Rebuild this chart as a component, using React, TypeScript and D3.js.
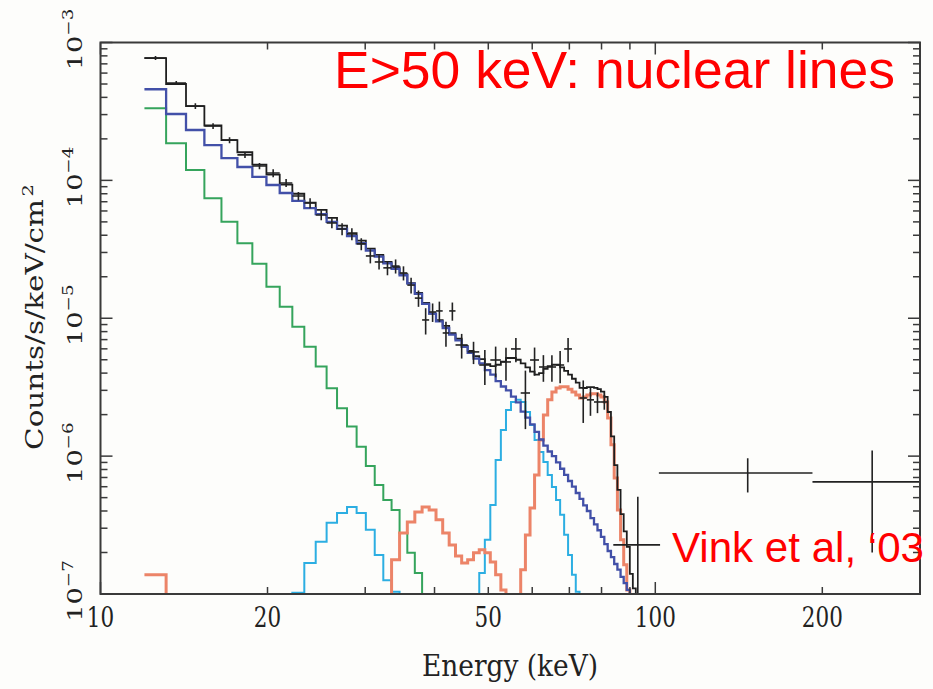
import React from 'react';
import * as d3 from 'd3';

const W = 933;
const H = 689;

// Channel boundaries of the spectrum (keV)
const binEdges = [
  12.0, 13.13, 14.26, 15.39, 16.52, 17.65, 18.78, 19.91, 21.04, 22.17,
  23.3, 24.43, 25.56, 26.69, 27.82, 28.95, 30.08, 31.21, 32.34, 33.47,
  34.6, 35.73, 36.86, 37.99, 39.12, 40.25, 41.38, 42.51, 43.64, 44.77,
  45.9, 47.03, 48.16, 49.29, 50.42, 51.55, 52.68, 53.81, 54.94, 56.07,
  57.2, 58.33, 59.46, 60.59, 61.72, 62.85, 63.98, 65.11, 66.24, 67.37,
  68.5, 69.63, 70.76, 71.89, 73.02, 74.15, 75.28, 76.41, 77.54, 78.67,
  79.8, 80.93, 82.06, 83.19, 84.32, 85.45, 86.58, 87.71, 88.84, 89.97,
  91.1, 92.23, 93.36,
];

// Total model (counts/s/keV/cm^2 per channel)
const totalModel = [
  7.7e-4, 5.0e-4, 3.45e-4, 2.5e-4, 1.96e-4, 1.6e-4, 1.3e-4, 1.1e-4, 9.3e-5, 8.0e-5,
  6.9e-5, 6.1e-5, 5.35e-5, 4.7e-5, 4.15e-5, 3.65e-5, 3.2e-5, 2.88e-5, 2.56e-5, 2.35e-5,
  2.09e-5, 1.8e-5, 1.53e-5, 1.29e-5, 1.08e-5, 9.7e-6, 8.8e-6, 7.8e-6, 7.1e-6, 6.3e-6,
  5.8e-6, 5.3e-6, 5.05e-6, 4.65e-6, 4.5e-6, 4.6e-6, 4.85e-6, 5.15e-6, 5.15e-6, 5.0e-6,
  4.7e-6, 4.4e-6, 4.1e-6, 3.9e-6, 4.0e-6, 4.3e-6, 4.5e-6, 4.6e-6, 4.6e-6, 4.4e-6,
  4.15e-6, 3.9e-6, 3.64e-6, 3.41e-6, 3.13e-6, 3.12e-6, 3.17e-6, 3.17e-6, 3.13e-6, 3.06e-6,
  2.94e-6, 2.69e-6, 2.09e-6, 1.39e-6, 8.6e-7, 5.7e-7, 3.8e-7, 2.85e-7, 2.2e-7, 1.4e-7,
  1.1e-7, 0,
];

// Hard continuum component
const continuumModel = [
  4.58e-4, 3.03e-4, 2.32e-4, 1.8e-4, 1.45e-4, 1.25e-4, 1.06e-4, 9.26e-5, 8.1e-5, 7.09e-5,
  6.3e-5, 5.7e-5, 5.0e-5, 4.45e-5, 3.95e-5, 3.5e-5, 3.1e-5, 2.8e-5, 2.5e-5, 2.28e-5,
  2.05e-5, 1.78e-5, 1.5e-5, 1.27e-5, 1.08e-5, 9.5e-6, 8.5e-6, 7.6e-6, 6.9e-6, 6.2e-6,
  5.6e-6, 5.1e-6, 4.7e-6, 4.2e-6, 3.9e-6, 3.5e-6, 3.2e-6, 3.0e-6, 2.7e-6, 2.45e-6,
  2.1e-6, 1.9e-6, 1.7e-6, 1.5e-6, 1.32e-6, 1.19e-6, 1.08e-6, 1.0e-6, 9.0e-7, 8.1e-7,
  7.3e-7, 6.6e-7, 6.0e-7, 5.4e-7, 4.9e-7, 4.4e-7, 4.0e-7, 3.55e-7, 3.2e-7, 2.9e-7,
  2.6e-7, 2.3e-7, 2.05e-7, 1.85e-7, 1.65e-7, 1.5e-7, 1.33e-7, 1.2e-7, 1.07e-7, 0,
];

// Soft thermal component
const softModel = [
  3.33e-4, 1.86e-4, 1.19e-4, 7.42e-5, 5.02e-5, 3.5e-5, 2.48e-5, 1.69e-5, 1.21e-5, 8.69e-6,
  6.22e-6, 4.46e-6, 3.11e-6, 2.22e-6, 1.64e-6, 1.17e-6, 8.49e-7, 6.18e-7, 4.81e-7, 4.07e-7,
  2.77e-7, 1.99e-7, 1.42e-7, 0,
];

// Line component (cyan)
const lineModelA = [
  0, 0, 0, 0, 0, 0, 0, 0, 0, 1.02e-7,
  1.68e-7, 2.39e-7, 3.28e-7, 3.87e-7, 4.28e-7, 3.87e-7, 2.92e-7, 1.92e-7, 1.26e-7, 1.04e-7,
  0, 0, 0, 0, 0, 0, 0, 0, 0, 0,
  0, 0, 1.42e-7, 2.47e-7, 4.43e-7, 9.38e-7, 1.55e-6, 2.16e-6, 2.47e-6, 2.56e-6,
  2.47e-6, 2.09e-6, 1.68e-6, 1.31e-6, 1.07e-6, 9.07e-7, 7.3e-7, 5.97e-7, 4.81e-7, 3.75e-7,
  2.69e-7, 1.92e-7, 1.38e-7, 1.04e-7, 0,
];

// Nuclear line component (orange)
const lineModelB = [
  1.38e-7, 0, 0, 0, 0, 0, 0, 0, 0, 0,
  0, 0, 0, 0, 0, 0, 0, 0, 0, 1.77e-7,
  2.77e-7, 3.33e-7, 3.94e-7, 4.28e-7, 4.07e-7, 3.45e-7, 2.77e-7, 2.27e-7, 1.89e-7, 1.68e-7,
  1.77e-7, 1.99e-7, 2.09e-7, 1.99e-7, 1.71e-7, 1.38e-7, 1.07e-7, 0, 0, 0,
  1.5e-7, 2.68e-7, 4.21e-7, 7.31e-7, 1.31e-6, 1.99e-6, 2.56e-6, 2.92e-6, 3.12e-6, 3.18e-6,
  3.18e-6, 3.06e-6, 2.92e-6, 2.78e-6, 2.64e-6, 2.68e-6, 2.78e-6, 2.83e-6, 2.83e-6, 2.78e-6,
  2.68e-6, 2.47e-6, 1.89e-6, 1.21e-6, 6.95e-7, 4.07e-7, 2.47e-7, 1.63e-7, 1.07e-7, 0,
];

// Measured spectrum: energy range, flux, 1-sigma error
const dataLo = [
  12.0, 13.13, 14.26, 15.39, 16.52, 17.65, 18.78, 19.91, 21.04, 22.17,
  23.3, 24.43, 25.56, 26.69, 27.82, 28.95, 30.08, 31.21, 32.34, 33.47,
  34.6, 35.73, 36.86, 37.99, 39.12, 40.25, 41.38, 42.51,
  43.64, 45.9, 48.16, 50.42, 52.68, 54.94, 57.2, 59.46, 61.72, 63.98, 66.24, 68.5,
  73.02, 75.28, 77.54, 79.8,
  84.0, 101.5, 192.0,
];
const dataHi = [
  13.13, 14.26, 15.39, 16.52, 17.65, 18.78, 19.91, 21.04, 22.17, 23.3,
  24.43, 25.56, 26.69, 27.82, 28.95, 30.08, 31.21, 32.34, 33.47, 34.6,
  35.73, 36.86, 37.99, 39.12, 40.25, 41.38, 42.51, 43.64,
  45.9, 48.16, 50.42, 52.68, 54.94, 57.2, 59.46, 61.72, 63.98, 66.24, 68.5, 70.76,
  75.28, 77.54, 79.8, 82.06,
  102.0, 192.0, 300.0,
];
const dataVal = [
  7.72e-4, 5.09e-4, 3.46e-4, 2.48e-4, 1.96e-4, 1.53e-4, 1.27e-4, 1.13e-4, 9.58e-5, 7.71e-5,
  6.86e-5, 5.61e-5, 4.91e-5, 4.44e-5, 4.09e-5, 3.46e-5, 2.83e-5, 2.56e-5, 2.32e-5, 2.39e-5,
  2.13e-5, 1.74e-5, 1.4e-5, 9.72e-6, 1.11e-5, 1.13e-5, 7.82e-6, 1.13e-5,
  6.4e-6, 5.7e-6, 4.58e-6, 4.98e-6, 4.82e-6, 5.99e-6, 2.87e-6, 4.98e-6, 4.43e-6, 4.43e-6, 4.58e-6, 5.99e-6,
  2.64e-6, 2.56e-6, 2.47e-6, 2.47e-6,
  2.27e-7, 7.55e-7, 6.5e-7,
];
const dataErr = [
  2.6e-5, 1.7e-5, 1.7e-5, 1.2e-5, 9.8e-6, 7.7e-6, 6.4e-6, 7.5e-6, 6.4e-6, 5.2e-6,
  5.7e-6, 4.7e-6, 4.1e-6, 4.4e-6, 4.1e-6, 3.5e-6, 3.3e-6, 3.0e-6, 2.7e-6, 2.8e-6,
  2.5e-6, 2.3e-6, 1.9e-6, 2.1e-6, 1.7e-6, 1.9e-6, 1.6e-6, 1.7e-6,
  1.3e-6, 1.05e-6, 1.3e-6, 1.25e-6, 1.3e-6, 1.2e-6, 1.3e-6, 1.15e-6, 9.7e-7, 9.7e-7, 1.2e-6, 1.2e-6,
  9.0e-7, 6.0e-7, 4.2e-7, 3.0e-7,
  2.8e-7, 2.1e-7, 4.5e-7,
];

const xLabelTicks = [10, 20, 50, 100, 200];
const yLabelTicks = [1e-7, 1e-6, 1e-5, 1e-4, 1e-3];

const FLOOR = 1e-9;
const SERIF = "'DejaVu Serif', 'Liberation Serif', serif";
const SANS = "'Liberation Sans', Arial, sans-serif";
const STRETCH = 1.3;

export default function App() {
  const left = 100.5;
  const right = 920;
  const top = 42.5;
  const bottom = 594;

  const x = d3.scaleLog().domain([10, 300]).range([left, right]);
  const y = d3.scaleLog().domain([1e-7, 1e-3]).range([bottom, top]);

  const line = d3
    .line<[number, number]>()
    .x((d) => x(d[0]))
    .y((d) => y(Math.max(d[1], FLOOR)))
    .curve(d3.curveStepAfter);

  const stepPath = (vals: number[]) => {
    const pts: [number, number][] = vals.map((v, i) => [binEdges[i], v]);
    const n = vals.length;
    pts.push([binEdges[n], vals[n - 1]]);
    pts.push([binEdges[n], FLOOR]);
    return line(pts) || '';
  };

  const xTicks = x.ticks();
  const yTicks = y.ticks();
  const isMajor = (v: number) => Math.abs(Math.log10(v) - Math.round(Math.log10(v))) < 1e-6;

  const frame = '#3a3a3a';
  const minorLen = 7;
  const majorLen = 12;

  return (
    <svg
      width={W}
      height={H}
      style={{ position: 'absolute', left: 0, top: 0, display: 'block' }}
    >
      <rect x={0} y={0} width={W} height={H} fill="#fdfdfb" />
      <defs>
        <clipPath id="plotArea">
          <rect x={left} y={top} width={right - left} height={bottom - top} />
        </clipPath>
      </defs>

      <g clipPath="url(#plotArea)" fill="none" strokeLinejoin="miter">
        <path d={stepPath(softModel)} stroke="#35a45c" strokeWidth={2} />
        <path d={stepPath(lineModelA)} stroke="#2caee2" strokeWidth={2} />
        <path d={stepPath(lineModelB)} stroke="#ec8468" strokeWidth={3} />
        <path d={stepPath(totalModel)} stroke="#1e1e1e" strokeWidth={1.8} />
        <path d={stepPath(continuumModel)} stroke="#4250a8" strokeWidth={2.3} />
        <g stroke="#222" strokeWidth={1.6}>
          {dataVal.map((v, i) => {
            const lo = dataLo[i];
            const hi = dataHi[i];
            const mid = (lo + hi) / 2;
            const yv = y(v);
            const yTop = y(v + dataErr[i]);
            const yBot = y(Math.max(v - dataErr[i], FLOOR));
            return (
              <g key={i}>
                <line x1={x(lo)} x2={x(hi)} y1={yv} y2={yv} />
                <line x1={x(mid)} x2={x(mid)} y1={yTop} y2={yBot} />
              </g>
            );
          })}
        </g>
      </g>

      {/* frame and ticks */}
      <rect
        x={left}
        y={top}
        width={right - left}
        height={bottom - top}
        fill="none"
        stroke={frame}
        strokeWidth={2}
      />
      <g stroke={frame} strokeWidth={1.5}>
        {xTicks.map((t, i) => {
          const len = isMajor(t) ? majorLen : minorLen;
          const xv = x(t);
          return (
            <g key={'xt' + i}>
              <line x1={xv} x2={xv} y1={bottom} y2={bottom - len} />
              <line x1={xv} x2={xv} y1={top} y2={top + len} />
            </g>
          );
        })}
        {yTicks.map((t, i) => {
          const len = isMajor(t) ? majorLen : minorLen;
          const yv = y(t);
          return (
            <g key={'yt' + i}>
              <line x1={left} x2={left + len} y1={yv} y2={yv} />
              <line x1={right} x2={right - len} y1={yv} y2={yv} />
            </g>
          );
        })}
      </g>

      {/* tick labels */}
      <g fill="#222" fontFamily={SERIF}>
        {xLabelTicks.map((t) => (
          <text
            key={'xl' + t}
            transform={`translate(${x(t)},627) scale(1,${STRETCH})`}
            textAnchor="middle"
            fontSize={21.5}
          >
            {String(t)}
          </text>
        ))}
        {yLabelTicks.map((t) => (
          <text
            key={'yl' + t}
            transform={`translate(82,${y(t) - 3}) scale(1,${STRETCH}) rotate(-90)`}
            textAnchor="middle"
            fontSize={21}
          >
            10
            <tspan dy={-9} fontSize={14}>
              {'\u2212' + String(-Math.round(Math.log10(t)))}
            </tspan>
          </text>
        ))}

        <text
          transform={`translate(510,676) scale(1,${STRETCH})`}
          textAnchor="middle"
          fontSize={23}
          textLength={176}
          lengthAdjust="spacingAndGlyphs"
        >
          Energy (keV)
        </text>

        <g transform={`translate(43,316) scale(1,${STRETCH}) rotate(-90)`}>
          <text x={-103} y={0} fontSize={24} textLength={193} lengthAdjust="spacingAndGlyphs">
            Counts/s/keV/cm
          </text>
          <text x={92} y={-10} fontSize={15}>
            2
          </text>
        </g>
      </g>

      {/* annotations */}
      <g fill="#ff0000" fontFamily={SANS}>
        <text x={334} y={88} fontSize={51} textLength={561} lengthAdjust="spacingAndGlyphs">
          E&gt;50 keV: nuclear lines
        </text>
        <text x={672} y={562} fontSize={42} textLength={252} lengthAdjust="spacingAndGlyphs">
          Vink et al, {'\u2018'}03
        </text>
      </g>
    </svg>
  );
}
